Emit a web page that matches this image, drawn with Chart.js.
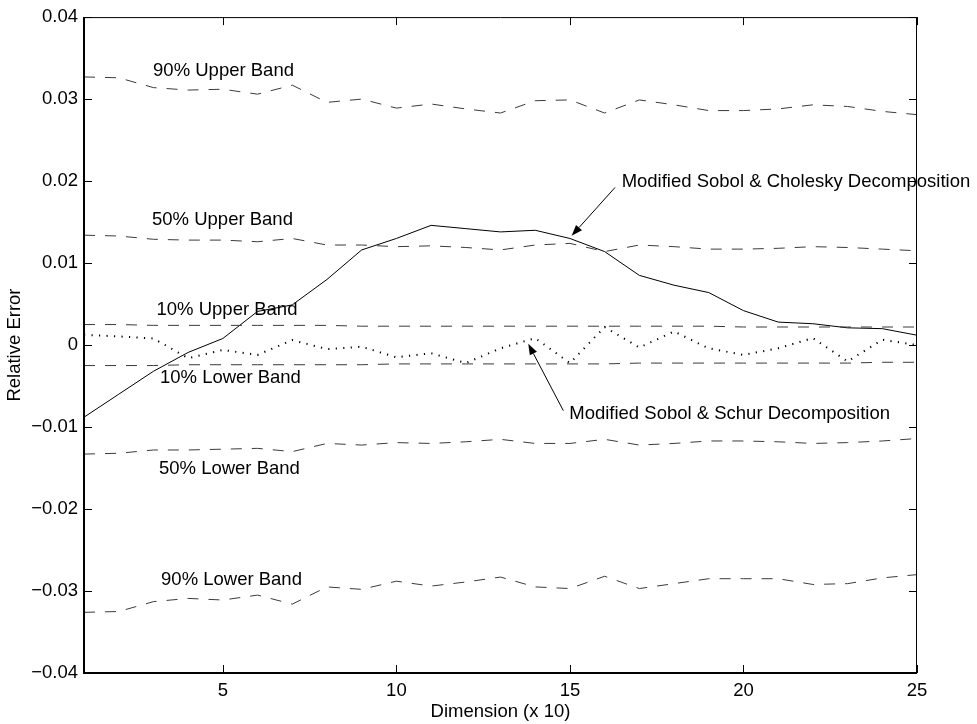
<!DOCTYPE html>
<html>
<head>
<meta charset="utf-8">
<script src="https://cdn.jsdelivr.net/npm/chart.js@4.4.1/dist/chart.umd.min.js"></script>
<style>
html,body{margin:0;padding:0;background:#fff;}
#wrap{width:977px;height:724px;}
</style>
</head>
<body>
<div id="wrap"><canvas id="c" width="977" height="724"></canvas></div>
<script>
// ---- data ----
const dims = [1,2,3,4,5,6,7,8,9,10,11,12,13,14,15,16,17,18,19,20,21,22,23,24,25];
const cholesky = [-0.0088,-0.0060,-0.0032,-0.0009,0.0008,0.0041,0.0049,0.0080,0.0116,0.0130,0.0146,0.0142,0.0138,0.0140,0.0130,0.0114,0.0085,0.0073,0.0064,0.0042,0.0028,0.0026,0.0021,0.0020,0.0012];
const schur = [0.00125,0.00105,0.0008,-0.0016,-0.0006,-0.0012,0.0006,-0.0005,-0.0002,-0.0015,-0.0010,-0.0022,-0.0004,0.00085,-0.0022,0.0022,-0.0003,0.00165,-0.0004,-0.0012,-0.0004,0.00085,-0.0020,0.00065,0.0000];
const upper90 = [0.0327,0.0326,0.0314,0.0311,0.0312,0.0306,0.0317,0.0296,0.0300,0.0289,0.0294,0.0288,0.0283,0.0298,0.0299,0.0283,0.0299,0.0293,0.0286,0.0286,0.0288,0.0293,0.0291,0.0285,0.0281];
const upper50 = [0.0134,0.0133,0.0129,0.0128,0.0128,0.0126,0.0130,0.0122,0.0122,0.0120,0.0121,0.0119,0.0116,0.0122,0.0124,0.0114,0.0122,0.0120,0.0117,0.0117,0.0118,0.0120,0.0119,0.0117,0.0115];
const upper10 = [0.0025,0.0025,0.0024,0.0024,0.0024,0.0024,0.0024,0.0024,0.0023,0.0023,0.0023,0.0023,0.0023,0.0023,0.0023,0.0023,0.0023,0.0023,0.0023,0.0022,0.0022,0.0022,0.0022,0.0022,0.0022];
const lower10 = [-0.0025,-0.0025,-0.0025,-0.0024,-0.0024,-0.0024,-0.0024,-0.0024,-0.0024,-0.0023,-0.0023,-0.0023,-0.0023,-0.0023,-0.0023,-0.0023,-0.0022,-0.0022,-0.0022,-0.0022,-0.0022,-0.0022,-0.0022,-0.0021,-0.0021];
const lower50 = [-0.0133,-0.0132,-0.0128,-0.0128,-0.0127,-0.0126,-0.0130,-0.0120,-0.0122,-0.0119,-0.0120,-0.0118,-0.0115,-0.0120,-0.0120,-0.0115,-0.0122,-0.0120,-0.0117,-0.0117,-0.0118,-0.0120,-0.0119,-0.0117,-0.0114];
const lower90 = [-0.0326,-0.0325,-0.0313,-0.0309,-0.0311,-0.0305,-0.0316,-0.0295,-0.0298,-0.0288,-0.0294,-0.0289,-0.0283,-0.0295,-0.0297,-0.0282,-0.0297,-0.0291,-0.0285,-0.0285,-0.0285,-0.0292,-0.0291,-0.0284,-0.0280];

const xTicks = [5,10,15,20,25];
const yTicks = [-0.04,-0.03,-0.02,-0.01,0,0.01,0.02,0.03,0.04];
const yTickLabels = ['\u22120.04','\u22120.03','\u22120.02','\u22120.01','0','0.01','0.02','0.03','0.04'];
const xTitle = 'Dimension (x 10)';
const yTitle = 'Relative Error';

// band labels: [text, x, y] in data units (left edge, vertical centre)
const bandLabels = [
  ['90% Upper Band', 2.99, 0.0334],
  ['50% Upper Band', 2.96, 0.0153],
  ['10% Upper Band', 3.09, 0.0043],
  ['10% Lower Band', 3.19, -0.0040],
  ['50% Lower Band', 3.16, -0.0151],
  ['90% Lower Band', 3.22, -0.0286]
];
// annotations: text, text anchor (x,y), arrow tail (x,y), arrow tip (x,y)
const annotations = [
  {text:'Modified Sobol & Cholesky Decomposition', tx:16.49, ty:0.01995, ax:16.30, ay:0.01922, bx:15.05, by:0.01333},
  {text:'Modified Sobol & Schur Decomposition', tx:14.98, ty:-0.0084, ax:14.81, ay:-0.0080, bx:13.80, by:0.00016}
];

const FONT = '18.5px "Liberation Sans", Arial, Helvetica, sans-serif';

function pts(arr){ return dims.map((d,i)=>({x:d,y:arr[i]})); }
const dashStyle = {borderColor:'#3a3a3a', borderWidth:1, borderDash:[11,10], pointRadius:0, fill:false, tension:0};

const decorPlugin = {
  id:'decor',
  afterDatasetsDraw(chart){
    const ctx = chart.ctx, a = chart.chartArea;
    const xs = chart.scales.x, ys = chart.scales.y;
    ctx.save();
    ctx.strokeStyle = '#000';
    // frame
    ctx.lineWidth = 1;
    ctx.beginPath();
    ctx.moveTo(a.left, a.top+0.5); ctx.lineTo(a.right, a.top+0.5);
    ctx.moveTo(a.right-0.5, a.top); ctx.lineTo(a.right-0.5, a.bottom);
    ctx.stroke();
    ctx.lineWidth = 2;
    ctx.beginPath();
    ctx.moveTo(a.left, a.top); ctx.lineTo(a.left, a.bottom+1);
    ctx.moveTo(a.left-1, a.bottom); ctx.lineTo(a.right, a.bottom);
    ctx.stroke();
    // inner ticks on all sides
    const TL = 8;
    ctx.lineWidth = 1;
    ctx.beginPath();
    xs.ticks.forEach(t=>{
      const px = Math.round(xs.getPixelForValue(t.value))+0.5;
      ctx.moveTo(px, a.bottom); ctx.lineTo(px, a.bottom-TL);
      ctx.moveTo(px, a.top); ctx.lineTo(px, a.top+TL);
    });
    ys.ticks.forEach(t=>{
      const py = Math.round(ys.getPixelForValue(t.value))+0.5;
      ctx.moveTo(a.left, py); ctx.lineTo(a.left+TL, py);
      ctx.moveTo(a.right, py); ctx.lineTo(a.right-TL, py);
    });
    ctx.stroke();
    // band labels
    ctx.fillStyle = '#000';
    ctx.font = FONT;
    ctx.textAlign = 'left';
    ctx.textBaseline = 'middle';
    bandLabels.forEach(([txt,x,y])=>{
      ctx.fillText(txt, xs.getPixelForValue(x), ys.getPixelForValue(y));
    });
    // annotations with arrows
    annotations.forEach(an=>{
      ctx.fillText(an.text, xs.getPixelForValue(an.tx), ys.getPixelForValue(an.ty));
      const x1 = xs.getPixelForValue(an.ax), y1 = ys.getPixelForValue(an.ay);
      const x2 = xs.getPixelForValue(an.bx), y2 = ys.getPixelForValue(an.by);
      const ang = Math.atan2(y2-y1, x2-x1);
      const hl = 11, hw = 4;
      const bxp = x2 - hl*Math.cos(ang), byp = y2 - hl*Math.sin(ang);
      ctx.lineWidth = 1;
      ctx.beginPath(); ctx.moveTo(x1,y1); ctx.lineTo(bxp,byp); ctx.stroke();
      ctx.beginPath();
      ctx.moveTo(x2,y2);
      ctx.lineTo(bxp + hw*Math.sin(ang), byp - hw*Math.cos(ang));
      ctx.lineTo(bxp - hw*Math.sin(ang), byp + hw*Math.cos(ang));
      ctx.closePath(); ctx.fill();
    });
    ctx.restore();
  }
};

Chart.defaults.font.family = '"Liberation Sans", Arial, Helvetica, sans-serif';
Chart.defaults.font.size = 18.5;
Chart.defaults.color = '#000';

new Chart(document.getElementById('c'), {
  type:'line',
  data:{
    datasets:[
      Object.assign({label:'90% Upper Band', data:pts(upper90)}, dashStyle),
      Object.assign({label:'50% Upper Band', data:pts(upper50)}, dashStyle),
      Object.assign({label:'10% Upper Band', data:pts(upper10)}, dashStyle),
      Object.assign({label:'10% Lower Band', data:pts(lower10)}, dashStyle),
      Object.assign({label:'50% Lower Band', data:pts(lower50)}, dashStyle),
      Object.assign({label:'90% Lower Band', data:pts(lower90)}, dashStyle),
      {label:'Modified Sobol & Schur Decomposition', data:pts(schur), borderColor:'#000', borderWidth:2, borderDash:[1.2,6.3], pointRadius:0, fill:false, tension:0},
      {label:'Modified Sobol & Cholesky Decomposition', data:pts(cholesky), borderColor:'#000', borderWidth:1, pointRadius:0, fill:false, tension:0}
    ]
  },
  options:{
    responsive:false,
    animation:false,
    devicePixelRatio:1,
    layout:{padding:{top:17, right:60, left:0, bottom:0}},
    plugins:{legend:{display:false}, tooltip:{enabled:false}},
    scales:{
      x:{
        type:'linear', min:1, max:25,
        afterBuildTicks:(s)=>{ s.ticks = xTicks.map(v=>({value:v})); },
        afterFit:(s)=>{ s.height = 51; },
        grid:{display:false, drawTicks:false},
        border:{display:false},
        ticks:{autoSkip:false, maxRotation:0, padding:7, callback:(v)=>String(v)},
        title:{display:true, text:xTitle, padding:{top:0,bottom:1}}
      },
      y:{
        type:'linear', min:-0.04, max:0.04,
        afterBuildTicks:(s)=>{ s.ticks = yTicks.map(v=>({value:v})); },
        afterFit:(s)=>{ s.width = 84; },
        grid:{display:false, drawTicks:false},
        border:{display:false},
        ticks:{autoSkip:false, padding:6, callback:(v,i)=>yTickLabels[i]},
        title:{display:true, text:yTitle, padding:{top:4,bottom:0}}
      }
    }
  },
  plugins:[decorPlugin]
});
</script>
</body>
</html>
